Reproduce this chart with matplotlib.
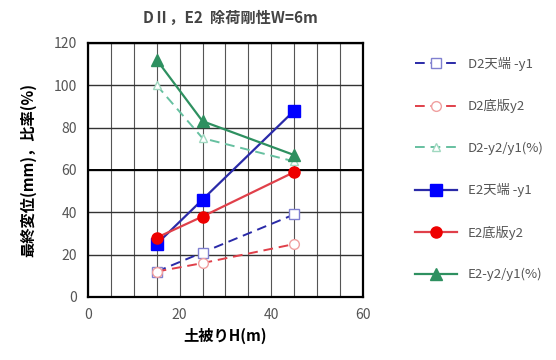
import numpy as np
import matplotlib
matplotlib.use('Agg')
import matplotlib.pyplot as plt

plt.rcParams['font.family'] = ['Noto Sans CJK JP', 'DejaVu Sans']

# --- данные ---
H = [15, 25, 45]
d2_top = [12, 21, 39]
d2_bottom = [12, 16, 25]
d2_ratio = [100, 75, 64]
e2_top = [25, 46, 88]
e2_bottom = [28, 38, 59]
e2_ratio = [112, 83, 67]

labels = ['D2天端 -y1', 'D2底版y2', 'D2-y2/y1(%)',
          'E2天端 -y1', 'E2底版y2', 'E2-y2/y1(%)']

blue = '#2a2aa8'
red = '#e0404a'
green_l = '#66c0a0'
green = '#2e9060'

fig = plt.figure(figsize=(5.56, 3.6), dpi=100)
ax = fig.add_axes([0.158, 0.175, 0.495, 0.706])

ax.plot(H, d2_top, color=blue, ls=(0, (5, 3)), lw=1.4, marker='s', ms=7,
        mfc='white', mec='#8080d0', label=labels[0])
ax.plot(H, d2_bottom, color=red, ls=(0, (5, 3)), lw=1.4, marker='o', ms=7,
        mfc='white', mec='#f0a0a0', label=labels[1])
ax.plot(H, d2_ratio, color=green_l, ls=(0, (5, 3)), lw=1.4, marker='^', ms=6,
        mfc='white', mec='#a0d8c0', label=labels[2])
ax.plot(H, e2_top, color=blue, lw=1.6, marker='s', ms=8,
        mfc='#0000ff', mec='#0000ff', label=labels[3])
ax.plot(H, e2_bottom, color=red, lw=1.6, marker='o', ms=8,
        mfc='#ee0000', mec='#ee0000', label=labels[4])
ax.plot(H, e2_ratio, color=green, lw=1.6, marker='^', ms=8,
        mfc=green, mec=green, label=labels[5])

ax.set_xlim(0, 60)
ax.set_ylim(0, 120)
ax.set_xticks(np.arange(0, 61, 20))
ax.set_xticks(np.arange(0, 61, 5), minor=True)
ax.set_yticks(np.arange(0, 121, 20))
ax.grid(True, which='both', axis='x', color='#555555', lw=0.8)
ax.grid(True, which='major', axis='y', color='#333333', lw=1.0)
ax.axhline(60, color='black', lw=1.4, zorder=1)
ax.set_axisbelow(True)
ax.tick_params(which='both', length=0, colors='#555555', labelsize=10, pad=8)
for s in ax.spines.values():
    s.set_linewidth(1.6)

ax.set_xlabel('土被りH(m)', fontsize=11, fontweight='bold')
ax.set_ylabel('最終変位(mm)，比率(%)', fontsize=11, fontweight='bold', labelpad=12)
fig.text(0.415, 0.935, 'DⅡ，E2  除荷剛性W=6m', ha='center', fontsize=11,
         fontweight='bold', color='#444444')

fig.legend(loc='center left', bbox_to_anchor=(0.725, 0.53), frameon=False,
           fontsize=9.5, labelspacing=2.15, handlelength=3.2,
           labelcolor='#555555')

fig.savefig('out.png', dpi=100)
